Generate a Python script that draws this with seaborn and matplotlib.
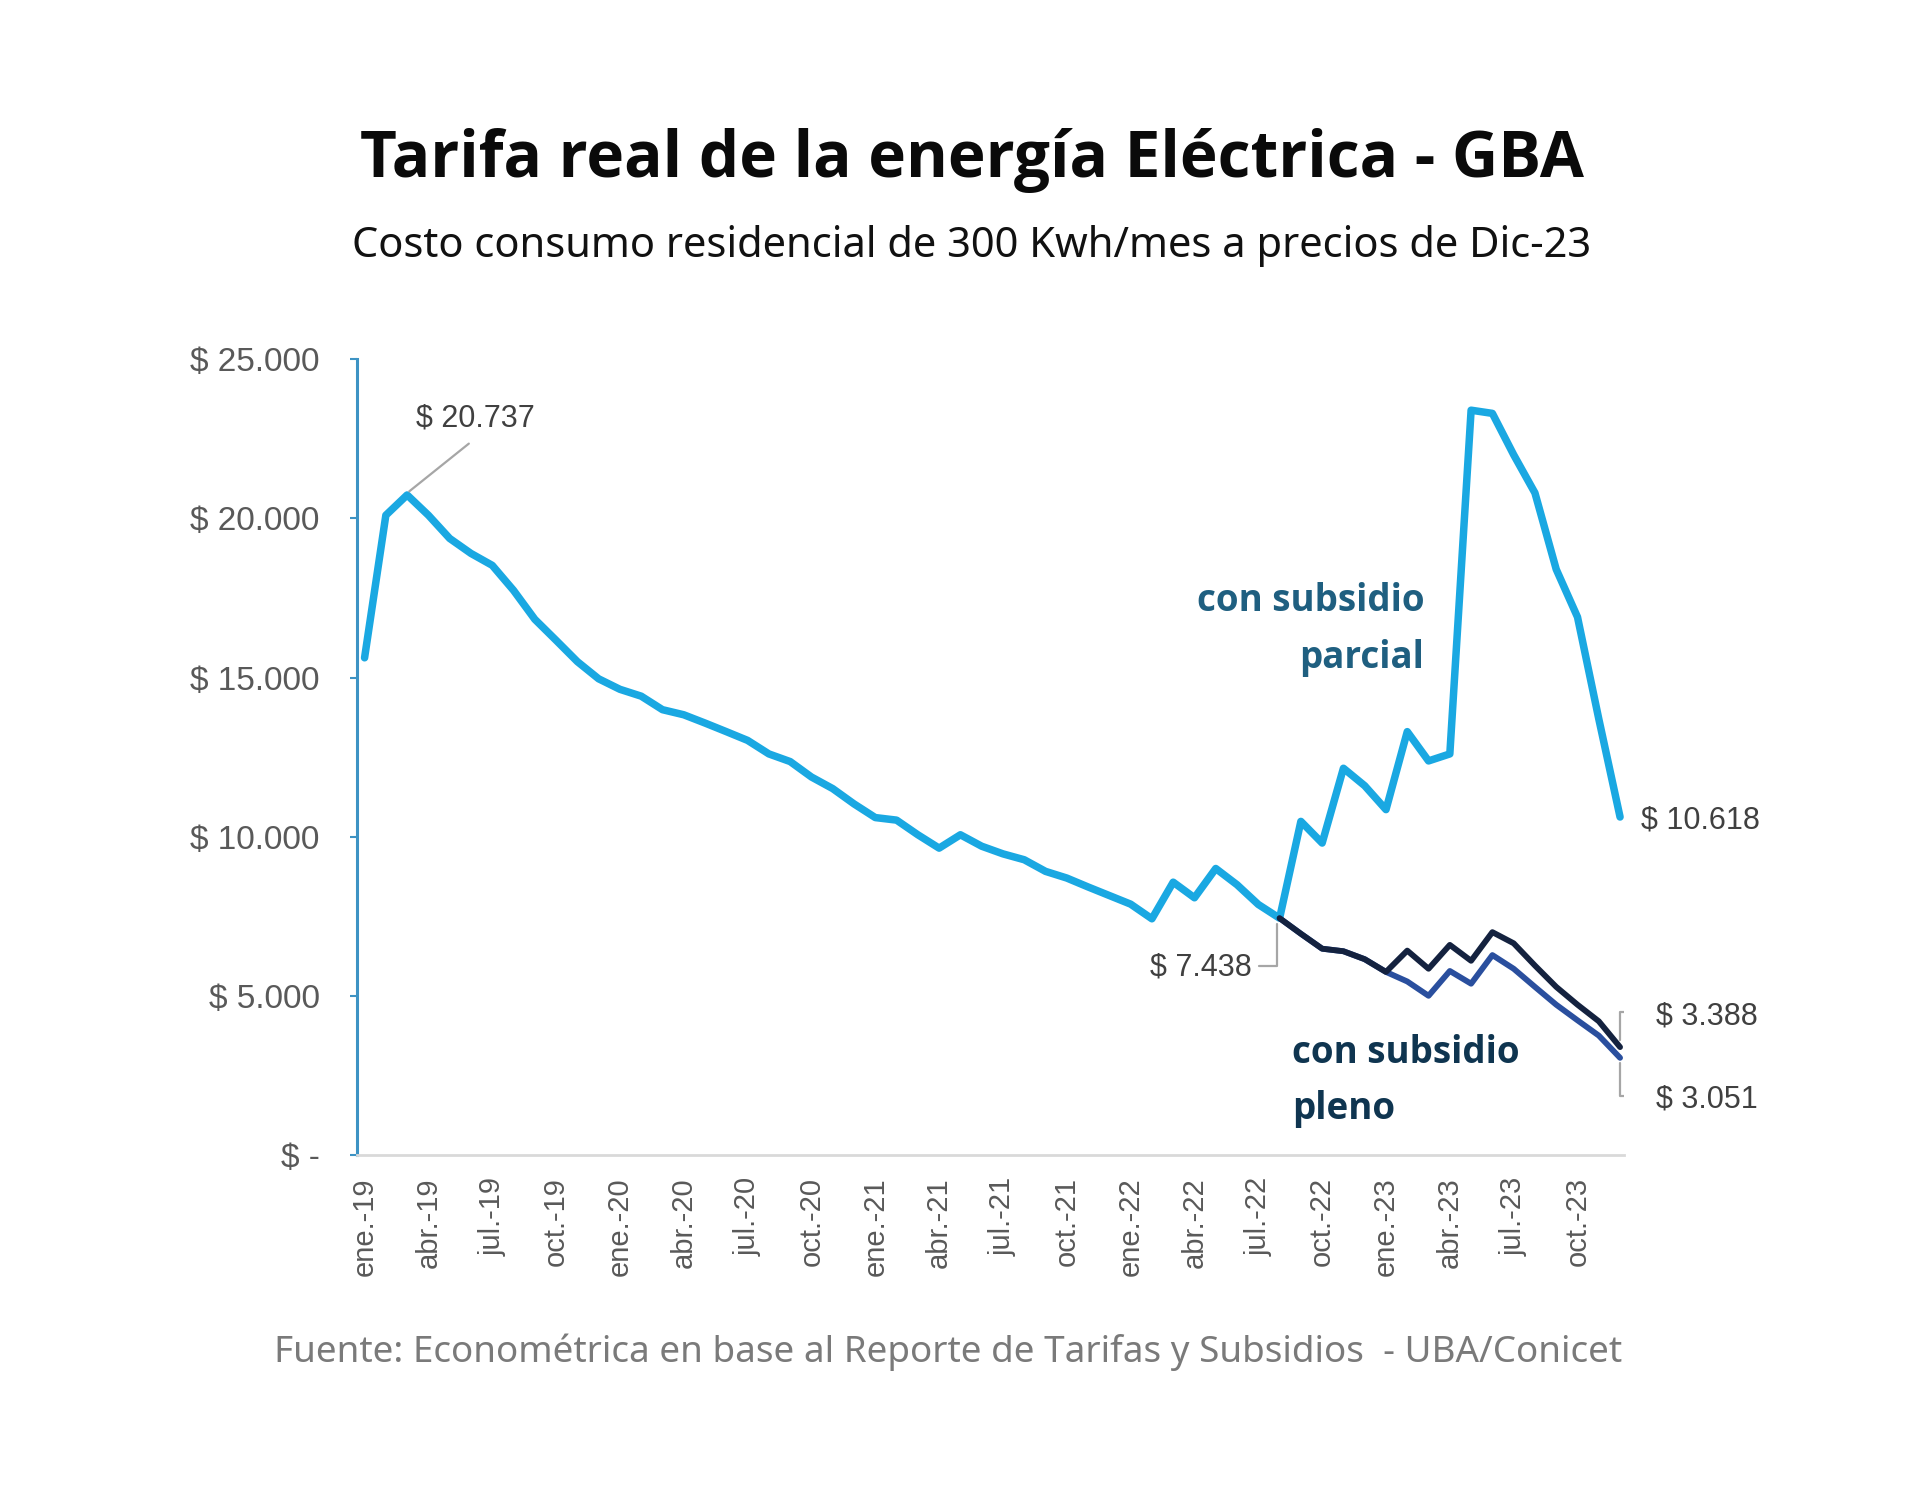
import numpy as np
import pandas as pd
import matplotlib
matplotlib.use("Agg")
import matplotlib.pyplot as plt
import seaborn as sns

# datos: costo mensual ene-19 .. dic-23 (precios dic-23)
meses_abrev = ["ene.", "feb.", "mar.", "abr.", "may.", "jun.",
               "jul.", "ago.", "sep.", "oct.", "nov.", "dic."]
anios = ["19", "20", "21", "22", "23"]
meses = [f"{m}-{a}" for a in anios for m in meses_abrev]

subsidio_parcial = [15620, 20100, 20737, 20100, 19370, 18900, 18525, 17740, 16830, 16170,
                    15500, 14960, 14630, 14415, 13990, 13830, 13570, 13300, 13025, 12600,
                    12360, 11875, 11510, 11030, 10600, 10520, 10060, 9640, 10060, 9700,
                    9460, 9275, 8910, 8700, 8420, 8150, 7880, 7420, 8570, 8080,
                    9000, 8490, 7870, 7438, 10480, 9800, 12150, 11600, 10850, 13300,
                    12380, 12600, 23400, 23300, 22000, 20800, 18400, 16900, 13700, 10618]

# a partir de ago-22 (indice 43)
inicio_pleno = 43
subsidio_pleno_a = [7438, 6950, 6480, 6400, 6150, 5750, 6420, 5850, 6600, 6100,
                    7000, 6650, 5950, 5280, 4720, 4200, 3388]
subsidio_pleno_b = [7438, 6950, 6480, 6400, 6150, 5750, 5450, 5000, 5780, 5380,
                    6280, 5850, 5280, 4720, 4230, 3750, 3051]

celeste = "#1aa8e2"
navy = "#14223f"
azul = "#2a4f9e"
gris_txt = "#595959"

df = pd.concat([
    pd.DataFrame({"mes": np.arange(len(subsidio_parcial)), "costo": subsidio_parcial,
                  "serie": "parcial"}),
    pd.DataFrame({"mes": np.arange(inicio_pleno, inicio_pleno + len(subsidio_pleno_a)),
                  "costo": subsidio_pleno_a, "serie": "pleno_a"}),
    pd.DataFrame({"mes": np.arange(inicio_pleno, inicio_pleno + len(subsidio_pleno_b)),
                  "costo": subsidio_pleno_b, "serie": "pleno_b"}),
], ignore_index=True)

sns.set_style("white")
plt.rcParams["font.family"] = ["Liberation Sans", "DejaVu Sans"]

fig = plt.figure(figsize=(19.2, 14.97), dpi=100)
ax = fig.add_axes([0.186, 0.2285, 0.66, 0.5315])

sns.lineplot(data=df[df.serie == "parcial"], x="mes", y="costo", color=celeste,
             lw=5.4, ax=ax)
sns.lineplot(data=df[df.serie == "pleno_b"], x="mes", y="costo", color=azul,
             lw=4.2, ax=ax)
sns.lineplot(data=df[df.serie == "pleno_a"], x="mes", y="costo", color=navy,
             lw=4.2, ax=ax)

ax.set_xlim(-0.35, 59.2)
ax.set_ylim(0, 25000)
ax.set_xlabel("")
ax.set_ylabel("")

yt = [0, 5000, 10000, 15000, 20000, 25000]
ax.set_yticks(yt)
ax.set_yticklabels(["$ -"] + [f"$ {v:,}".replace(",", ".") for v in yt[1:]],
                   fontsize=24, color=gris_txt)
xt = list(range(0, 60, 3))
ax.set_xticks(xt)
ax.set_xticklabels([meses[i] for i in xt], rotation=90, fontsize=21, color=gris_txt)

for s in ["top", "right"]:
    ax.spines[s].set_visible(False)
ax.spines["left"].set_color("#3d93c4")
ax.spines["left"].set_linewidth(2.2)
ax.spines["bottom"].set_color("#d9d9d9")
ax.spines["bottom"].set_linewidth(2)
ax.tick_params(axis="y", length=5, width=1.5, color="#3d93c4", pad=22, direction="out", left=True)
ax.tick_params(axis="x", length=0, pad=16)

# etiquetas de valores
num_kw = dict(fontsize=22, color="#404040")
lead = dict(color="#a6a6a6", lw=1.6)
ax.text(5.2, 23150, "$ 20.737", ha="center", va="center", **num_kw)
ax.plot([4.9, 2.1], [22350, 20850], **lead)
ax.text(41.7, 5900, "$ 7.438", ha="right", va="center", **num_kw)
ax.plot([42.05, 42.9, 42.9], [5950, 5950, 7250], **lead)
ax.text(60.0, 10500, "$ 10.618", ha="left", va="center", **num_kw)
ax.text(60.7, 4350, "$ 3.388", ha="left", va="center", **num_kw)
ax.plot([59.6, 59.0, 59.0], [4500, 4500, 3600], **lead)
ax.text(60.7, 1750, "$ 3.051", ha="left", va="center", **num_kw)
ax.plot([59.0, 59.0, 59.6], [2900, 1850, 1850], **lead)

lab_font = ["Open Sans", "DejaVu Sans"]
ax.text(49.8, 17400, "con subsidio", ha="right", va="center", fontsize=26.5,
        fontweight="bold", color="#1f5f80", family=lab_font)
ax.text(49.8, 15620, "parcial", ha="right", va="center", fontsize=26.5,
        fontweight="bold", color="#1f5f80", family=lab_font)
ax.text(43.6, 3200, "con subsidio", ha="left", va="center", fontsize=26.5,
        fontweight="bold", color="#0f3550", family=lab_font)
ax.text(43.6, 1430, "pleno", ha="left", va="center", fontsize=26.5,
        fontweight="bold", color="#0f3550", family=lab_font)

fig.text(0.506, 0.893, "Tarifa real de la energía Eléctrica - GBA", ha="center",
         va="center", fontsize=46, fontweight="bold", color="#0a0a0a",
         family=lab_font)
fig.text(0.506, 0.836, "Costo consumo residencial de 300 Kwh/mes a precios de Dic-23",
         ha="center", va="center", fontsize=30, color="#111111",
         family=["Noto Sans", "DejaVu Sans"])
fig.text(0.494, 0.097, "Fuente: Econométrica en base al Reporte de Tarifas y Subsidios  - UBA/Conicet",
         ha="center", va="center", fontsize=26.5, color="#7a7a7a",
         family=["Noto Sans", "DejaVu Sans"])

fig.savefig("out.png", dpi=100, facecolor="white")
